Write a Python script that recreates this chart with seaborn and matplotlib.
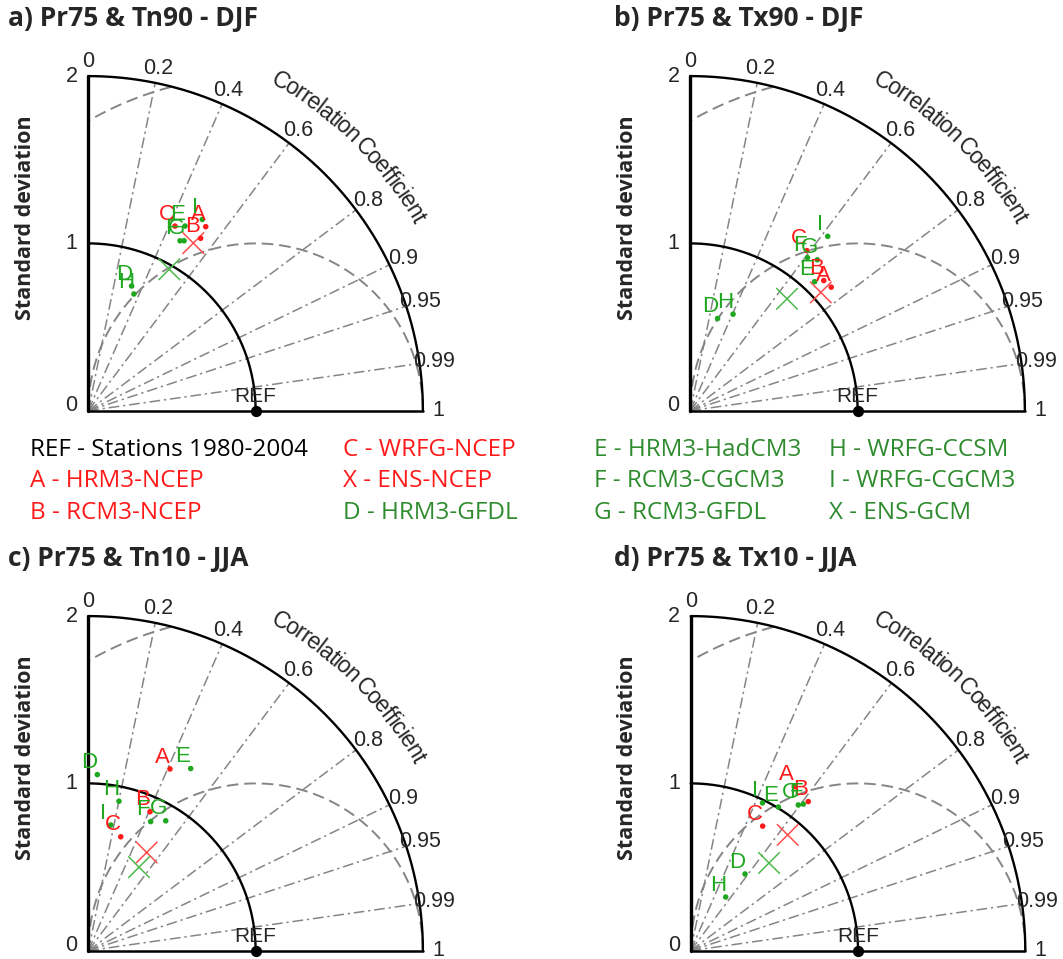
import numpy as np
import pandas as pd
import matplotlib.pyplot as plt
import seaborn as sns

# ---- data (normalized std dev and correlation) ----
models = ['A', 'B', 'C', 'D', 'E', 'F', 'G', 'H', 'I']
groups = ['ncep', 'ncep', 'ncep', 'gcm', 'gcm', 'gcm', 'gcm', 'gcm', 'gcm']
ens_groups = ['ncep', 'gcm']

std_a = [1.305, 1.230, 1.219, 0.789, 1.246, 1.154, 1.166, 0.749, 1.331]
cor_a = [0.538, 0.546, 0.425, 0.328, 0.464, 0.475, 0.491, 0.364, 0.512]
ens_std_a = [1.182, 0.974]
ens_cor_a = [0.531, 0.497]

std_b = [1.120, 1.114, 1.184, 0.575, 1.071, 1.152, 1.179, 0.631, 1.327]
cor_b = [0.752, 0.716, 0.589, 0.284, 0.694, 0.608, 0.644, 0.405, 0.619]
ens_std_b = [1.053, 0.884]
ens_cor_b = [0.741, 0.654]

std_c = [1.191, 0.909, 0.708, 1.054, 1.249, 0.857, 0.904, 0.912, 0.763]
cor_c = [0.410, 0.406, 0.274, 0.051, 0.490, 0.435, 0.512, 0.201, 0.176]
ens_std_c = [0.683, 0.584]
ens_cor_c = [0.511, 0.519]

std_d = [1.160, 1.135, 0.860, 0.562, 1.006, 1.105, 1.083, 0.383, 0.982]
cor_d = [0.534, 0.619, 0.500, 0.578, 0.521, 0.609, 0.594, 0.546, 0.437]
ens_std_d = [0.903, 0.703]
ens_cor_d = [0.642, 0.666]

titles = ['a) Pr75 & Tn90 - DJF', 'b) Pr75 & Tx90 - DJF',
          'c) Pr75 & Tn10 - JJA', 'd) Pr75 & Tx10 - JJA']
corr_ticks = [0.2, 0.4, 0.6, 0.8, 0.9, 0.95, 0.99]
corr_tick_labels = ['0.2', '0.4', '0.6', '0.8', '0.9', '0.95', '0.99']
rms_levels = [1, 2]

legend_cols = [
    [('REF - Stations 1980-2004', 'black'), ('A - HRM3-NCEP', 'red'), ('B - RCM3-NCEP', 'red')],
    [('C - WRFG-NCEP', 'red'), ('X - ENS-NCEP', 'red'), ('D - HRM3-GFDL', 'green')],
    [('E - HRM3-HadCM3', 'green'), ('F - RCM3-CGCM3', 'green'), ('G - RCM3-GFDL', 'green')],
    [('H - WRFG-CCSM', 'green'), ('I - WRFG-CGCM3', 'green'), ('X - ENS-GCM', 'green')],
]

RED = '#ff1a1a'
GREEN = '#1fa81f'
LEG_GREEN = '#2e8b2e'
GRAY = '#858585'
pal = {'ncep': RED, 'gcm': GREEN}
ens_pal = {'ncep': '#ff4d4d', 'gcm': '#4cbb4c'}
SANS = ['Open Sans', 'DejaVu Sans']

sns.set_style('white')
plt.rcParams['font.family'] = ['Liberation Sans', 'DejaVu Sans']

W, H = 1063, 959
S = 167.3  # pixels per unit std
fig = plt.figure(figsize=(W / 100, H / 100), dpi=100)

origins = [(88.3, 410.7), (690.3, 410.7), (88.3, 950.7), (690.7, 950.7)]
title_pos = [(8, 19), (614, 19), (8, 559), (614, 558)]
panels = [(std_a, cor_a, ens_std_a, ens_cor_a), (std_b, cor_b, ens_std_b, ens_cor_b),
          (std_c, cor_c, ens_std_c, ens_cor_c), (std_d, cor_d, ens_std_d, ens_cor_d)]

# approximate Helvetica advance widths (em) for the curved label
cw = {'C': .722, 'o': .556, 'r': .333, 'e': .556, 'l': .222, 'a': .556, 't': .278,
      'i': .222, 'n': .556, ' ': .2, 'f': .278, 'c': .5}
curved = 'Correlation Coefficient'

xmin, xmax, ymin, ymax = -0.5, 2.6, -0.1, 2.4

for k, (std, cor, estd, ecor) in enumerate(panels):
    ox, oy = origins[k]
    left = ox + xmin * S
    bottom = oy - ymin * S
    ax = fig.add_axes([left / W, 1 - bottom / H, (xmax - xmin) * S / W, (ymax - ymin) * S / H])
    ax.set_xlim(xmin, xmax)
    ax.set_ylim(ymin, ymax)
    ax.axis('off')
    ax.set_facecolor('none')

    # RMS difference arcs centred on REF
    for rms in rms_levels:
        phi = np.linspace(0, np.pi, 400)
        x = 1 + rms * np.cos(phi)
        y = rms * np.sin(phi)
        keep = (x >= 0) & (x ** 2 + y ** 2 <= 4.0001)
        ax.plot(x[keep], y[keep], color=GRAY, lw=1.4, ls=(0, (6, 3)), zorder=1)

    # correlation rays
    for c in corr_ticks:
        t = np.arccos(c)
        ax.plot([0, 2 * np.cos(t)], [0, 2 * np.sin(t)], color=GRAY, lw=1.1,
                ls=(0, (7, 2.5, 1.5, 2.5)), zorder=1)

    # std arcs and axes
    th = np.linspace(0, np.pi / 2, 300)
    for r in [1, 2]:
        ax.plot(r * np.cos(th), r * np.sin(th), color='black', lw=1.7, zorder=2)
    ax.plot([0, 0], [0, 2], color='black', lw=2.4, zorder=2)
    ax.plot([0, 2], [0, 0], color='black', lw=1.8, zorder=2)

    # tick labels
    for v in [0, 1, 2]:
        ax.text(-0.065, v + (0.03 if v == 0 else 0), str(v), ha='right', va='center', fontsize=15.5)
    for c, lab in zip([0] + corr_ticks + [1], ['0'] + corr_tick_labels + ['1']):
        t = np.arccos(c)
        ax.text(2.09 * np.cos(t), 2.09 * np.sin(t), lab, ha='center', va='center', fontsize=15.5)

    # curved axis title
    widths = np.array([cw[ch] for ch in curved])
    centers = np.cumsum(widths) - widths / 2
    frac = (centers - centers[0]) / (centers[-1] - centers[0])
    angs = np.deg2rad(59.8 + frac * (30.3 - 59.8))
    for ch, a in zip(curved, angs):
        ax.text(2.28 * np.cos(a), 2.28 * np.sin(a), ch, ha='center', va='center',
                rotation=np.rad2deg(a) - 90, rotation_mode='anchor', fontsize=16.5)

    # REF point
    ax.scatter([1], [0], s=50, color='black', zorder=5, clip_on=False)
    ax.text(1, 0.085, 'REF', ha='center', va='center', fontsize=15, zorder=5)

    # models
    df = pd.DataFrame({'std': std, 'cor': cor, 'model': models, 'group': groups})
    df['x'] = df['std'] * df['cor']
    df['y'] = df['std'] * np.sqrt(1 - df['cor'] ** 2)
    sns.scatterplot(data=df, x='x', y='y', hue='group', palette=pal, s=16, linewidth=0,
                    legend=False, ax=ax, zorder=4)
    for _, row in df.iterrows():
        ax.annotate(row['model'], (row['x'], row['y']), xytext=(-5.5, 8.6),
                    textcoords='offset points', ha='center', va='center',
                    color=pal[row['group']], fontsize=16, zorder=4)

    ens = pd.DataFrame({'std': estd, 'cor': ecor, 'group': ens_groups})
    ens['x'] = ens['std'] * ens['cor']
    ens['y'] = ens['std'] * np.sqrt(1 - ens['cor'] ** 2)
    sns.scatterplot(data=ens, x='x', y='y', hue='group', palette=ens_pal, marker='x',
                    s=240, linewidth=1.1, legend=False, ax=ax, zorder=3)

    ax.set_xlabel('')
    ax.set_ylabel('')

    # panel title and y label
    tx, ty = title_pos[k]
    fig.text(tx / W, 1 - ty / H, titles[k], ha='left', va='center', fontsize=19,
             fontweight='bold', family=SANS)
    fig.text((ox - 63) / W, 1 - (oy - 193) / H, 'Standard deviation', rotation=90,
             ha='center', va='center', fontsize=15.5, fontweight='bold', family=SANS)

# legend block
col_x = [30, 343, 594, 829]
row_y = [450, 481, 513]
for cx, col in zip(col_x, legend_cols):
    for ry, (txt, colr) in zip(row_y, col):
        c = {'black': 'black', 'red': RED, 'green': LEG_GREEN}[colr]
        fig.text(cx / W, 1 - ry / H, txt, ha='left', va='center', fontsize=17.5,
                 color=c, family=SANS)

fig.savefig('out.png', dpi=100)
